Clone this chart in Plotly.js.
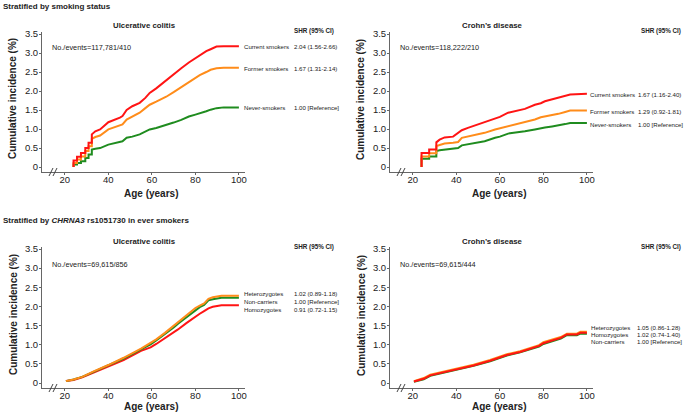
<!DOCTYPE html>
<html>
<head>
<meta charset="utf-8">
<script src="https://cdn.plot.ly/plotly-3.0.1.min.js"></script>
<style>
html,body{margin:0;padding:0;background:#fff;}
#chart{width:685px;height:414px;}
</style>
</head>
<body>
<div id="chart"></div>
<script>
// ---------- DATA ----------
// Top-left: Ulcerative colitis by smoking status
const ageUCsmoke = [24, 24, 25.6, 25.6, 27.4, 27.4, 29.4, 29.4, 30.9, 30.9, 32.4, 32.4, 34, 36.2, 40, 42.5, 45.3, 46.5, 48.4, 51, 54.4, 57, 59, 62, 66.6, 70, 73.5, 77, 80, 82, 85, 87, 89.7, 93, 100];
const ucCurrent = [0, 0.17, 0.17, 0.27, 0.27, 0.37, 0.37, 0.5, 0.5, 0.64, 0.64, 0.86, 0.94, 0.99, 1.18, 1.23, 1.3, 1.34, 1.5, 1.6, 1.69, 1.82, 1.95, 2.07, 2.29, 2.45, 2.6, 2.75, 2.87, 2.95, 3.05, 3.1, 3.17, 3.18, 3.18];
const ucFormer  = [0, 0.11, 0.11, 0.2, 0.2, 0.28, 0.28, 0.42, 0.42, 0.55, 0.55, 0.74, 0.79, 0.83, 0.99, 1.04, 1.1, 1.12, 1.25, 1.33, 1.43, 1.55, 1.64, 1.72, 1.85, 1.97, 2.1, 2.25, 2.35, 2.42, 2.5, 2.56, 2.6, 2.61, 2.61];
const ucNever   = [0, 0.07, 0.07, 0.11, 0.11, 0.15, 0.15, 0.24, 0.24, 0.33, 0.33, 0.46, 0.48, 0.5, 0.59, 0.62, 0.66, 0.68, 0.77, 0.8, 0.86, 0.93, 0.99, 1.03, 1.1, 1.17, 1.24, 1.33, 1.38, 1.41, 1.47, 1.51, 1.55, 1.57, 1.57];

// Top-right: Crohn's disease by smoking status
const ageCDsmoke = [24, 24, 27.5, 27.5, 30.8, 30.8, 32.3, 34.6, 38.5, 40.8, 42.5, 45.3, 50, 53, 57.8, 60, 63.8, 67, 71.5, 76.1, 78.8, 80.7, 84, 86.9, 90, 92.3, 100];
const cdCurrent = [0, 0.37, 0.37, 0.46, 0.46, 0.65, 0.72, 0.78, 0.8, 0.9, 0.97, 1.03, 1.12, 1.18, 1.27, 1.32, 1.43, 1.47, 1.53, 1.64, 1.68, 1.73, 1.78, 1.82, 1.88, 1.91, 1.93];
const cdFormer  = [0, 0.28, 0.28, 0.36, 0.36, 0.55, 0.58, 0.62, 0.64, 0.66, 0.77, 0.8, 0.86, 0.9, 0.99, 1.02, 1.09, 1.12, 1.18, 1.25, 1.31, 1.33, 1.37, 1.4, 1.45, 1.49, 1.49];
const cdNever   = [0, 0.22, 0.22, 0.28, 0.28, 0.42, 0.44, 0.46, 0.48, 0.5, 0.57, 0.6, 0.64, 0.68, 0.77, 0.8, 0.88, 0.9, 0.94, 0.99, 1.03, 1.04, 1.07, 1.09, 1.13, 1.16, 1.16];

// Bottom-left: Ulcerative colitis by CHRNA3 rs1051730 (ever smokers)
const ageUCgene = [20.5, 24, 28, 33, 40, 47, 55, 59.4, 62, 66, 70, 72, 76, 80, 82, 84, 86, 88, 92, 100];
const ucHet = [0.05, 0.09, 0.16, 0.3, 0.47, 0.66, 0.9, 1.04, 1.14, 1.31, 1.49, 1.6, 1.78, 1.96, 2.02, 2.08, 2.2, 2.24, 2.28, 2.28];
const ucNon = [0.05, 0.09, 0.16, 0.29, 0.46, 0.64, 0.88, 1.01, 1.11, 1.27, 1.45, 1.55, 1.73, 1.91, 1.98, 2.04, 2.16, 2.19, 2.23, 2.23];
const ucHom = [0.05, 0.08, 0.15, 0.27, 0.43, 0.6, 0.84, 0.93, 1.02, 1.17, 1.32, 1.4, 1.57, 1.74, 1.81, 1.88, 1.95, 1.99, 2.03, 2.03];

// Bottom-right: Crohn's disease by CHRNA3 rs1051730 (ever smokers)
const ageCDgene = [20.5, 25, 28, 32.6, 38.7, 47.9, 55.5, 63.2, 69.3, 74, 78, 80, 85.4, 88, 90.8, 95.4, 97, 100];
const cdHet = [0.05, 0.13, 0.22, 0.28, 0.37, 0.48, 0.6, 0.75, 0.83, 0.92, 0.99, 1.07, 1.15, 1.2, 1.29, 1.29, 1.34, 1.34];
const cdHom = [0.04, 0.11, 0.2, 0.26, 0.35, 0.46, 0.58, 0.73, 0.81, 0.9, 0.97, 1.04, 1.13, 1.18, 1.27, 1.27, 1.31, 1.31];
const cdNon = [0.03, 0.1, 0.19, 0.25, 0.34, 0.45, 0.57, 0.72, 0.8, 0.88, 0.95, 1.02, 1.11, 1.16, 1.25, 1.25, 1.29, 1.29];

// Labels
const smokeLabels = ["Current smokers", "Former smokers", "Never-smokers"];
const ucSmokeSHR = ["2.04 (1.56-2.66)", "1.67 (1.31-2.14)", "1.00 [Reference]"];
const cdSmokeSHR = ["1.67 (1.16-2.40)", "1.29 (0.92-1.81)", "1.00 [Reference]"];
const ucGeneLabels = ["Heterozygotes", "Non-carriers", "Homozygotes"];
const ucGeneSHR = ["1.02 (0.89-1.18)", "1.00 [Reference]", "0.91 (0.72-1.15)"];
const cdGeneLabels = ["Heterozygotes", "Homozygotes", "Non-carriers"];
const cdGeneSHR = ["1.05 (0.86-1.28)", "1.02 (0.74-1.40)", "1.00 [Reference]"];
const nEvents = ["No./events=117,781/410", "No./events=118,222/210", "No./events=69,615/856", "No./events=69,615/444"];
const panelTitles = ["Ulcerative colitis", "Crohn\u2019s disease", "Ulcerative colitis", "Crohn\u2019s disease"];
const yTickVals = [0, 0.5, 1, 1.5, 2, 2.5, 3, 3.5];
const yTickText = ["0", "0.5", "1.0", "1.5", "2.0", "2.5", "3.0", "3.5"];
const xTickVals = [20, 40, 60, 80, 100];

// ---------- STYLE ----------
const RED = "#ff1414", ORANGE = "#ff8c1a", GREEN = "#1f8c1f";
const W = 685, H = 414;
const FONT = "Liberation Sans, Arial, sans-serif";
const px = v => v / W;
const py = v => 1 - v / H;

function line(x, y, color, xa, ya) {
  return {x: x, y: y, type: "scatter", mode: "lines", xaxis: xa, yaxis: ya,
          line: {color: color, width: 2, shape: "linear"}, hoverinfo: "skip", showlegend: false};
}

const traces = [
  line(ageUCsmoke, ucNever, GREEN, "x", "y"),
  line(ageUCsmoke, ucFormer, ORANGE, "x", "y"),
  line(ageUCsmoke, ucCurrent, RED, "x", "y"),
  line(ageCDsmoke, cdNever, GREEN, "x2", "y2"),
  line(ageCDsmoke, cdFormer, ORANGE, "x2", "y2"),
  line(ageCDsmoke, cdCurrent, RED, "x2", "y2"),
  line(ageUCgene, ucHom, RED, "x3", "y3"),
  line(ageUCgene, ucNon, GREEN, "x3", "y3"),
  line(ageUCgene, ucHet, ORANGE, "x3", "y3"),
  line(ageCDgene, cdNon, GREEN, "x4", "y4"),
  line(ageCDgene, cdHet, ORANGE, "x4", "y4"),
  line(ageCDgene, cdHom, RED, "x4", "y4")
];

function xax(domain, anchor) {
  return {domain: domain, anchor: anchor, range: [9.5, 102.8], tickvals: xTickVals,
          ticks: "outside", ticklen: 2, tickcolor: "#666", showline: true, linecolor: "#666", linewidth: 1,
          ticklabelstandoff: -3,
          showgrid: false, zeroline: false, tickfont: {family: FONT, size: 9.5, color: "#222"}, fixedrange: true};
}
function yax(domain, anchor) {
  return {domain: domain, anchor: anchor, range: [-0.13, 3.553], tickvals: yTickVals, ticktext: yTickText,
          ticks: "outside", ticklen: 2, tickcolor: "#666", showline: true, linecolor: "#666", linewidth: 1,
          ticklabelstandoff: -1,
          showgrid: false, zeroline: false, tickfont: {family: FONT, size: 9.5, color: "#222"}, fixedrange: true};
}

const xL = [px(42), px(245)], xR = [px(390), px(593)];
const yT = [py(172), py(32)], yB = [py(388), py(247)];

const ann = [];
function txt(x, y, text, size, opts) {
  ann.push(Object.assign({xref: "paper", yref: "paper", x: px(x), y: py(y), text: text, showarrow: false,
    xanchor: "left", yanchor: "middle", font: {family: FONT, size: size, color: "#222"}}, opts || {}));
}

// Section headers
txt(1, 7, "<b>Stratified by smoking status</b>", 8);
txt(1, 220, "<b>Stratified by <i>CHRNA3</i> rs1051730 in ever smokers</b>", 8);

// panel info (offsets and axis-title rows per panel)
const panels = [
  {ox: 0, oy: 0, ty: 193}, {ox: 348, oy: 0, ty: 193}, {ox: 0, oy: 216, ty: 406.5}, {ox: 348, oy: 216, ty: 406.5}
];
panels.forEach((p, i) => {
  txt(p.ox + 144, p.oy + 25, "<b>" + panelTitles[i] + "</b>", 7.8, {xanchor: "center"});
  txt(p.ox + 50, p.oy + 48, nEvents[i], 7.3);
  txt(p.ox + (i % 2 ? 291 : 292), p.oy + 31, "<b>SHR (95% CI)</b>", 6.3);
  txt(p.ox + 151, p.ty, "<b>Age (years)</b>", 10, {xanchor: "center"});
  txt(p.ox + 13, p.oy + 99, "<b>Cumulative incidence (%)</b>", 10, {xanchor: "center", textangle: -90});
});

// series labels
const labelSets = [
  {x: 242, vx: 292, ys: [46.7, 68.3, 107.7], labels: smokeLabels, vals: ucSmokeSHR},
  {x: 588, vx: 636, ys: [94.7, 111.3, 124.3], labels: smokeLabels, vals: cdSmokeSHR},
  {x: 242, vx: 292, ys: [293.3, 301, 309], labels: ucGeneLabels, vals: ucGeneSHR},
  {x: 589, vx: 635, ys: [327.3, 334.3, 341], labels: cdGeneLabels, vals: cdGeneSHR}
];
labelSets.forEach(s => {
  s.labels.forEach((l, k) => {
    txt(s.x, s.ys[k], l, 6.1);
    txt(s.vx, s.ys[k], s.vals[k], 6.1);
  });
});

// axis break marks
const shapes = [];
[[0, 172], [348, 172], [0, 388], [348, 388]].forEach(([ox, ay]) => {
  [49, 53].forEach(sx => {
    shapes.push({type: "line", xref: "paper", yref: "paper",
      x0: px(ox + sx), y0: py(ay + 4), x1: px(ox + sx + 4), y1: py(ay - 4),
      line: {color: "#444", width: 1}});
  });
});

const layout = {
  width: W, height: H,
  margin: {l: 0, r: 0, t: 0, b: 0},
  paper_bgcolor: "#fff", plot_bgcolor: "#fff",
  showlegend: false,
  xaxis: xax(xL, "y"), yaxis: yax(yT, "x"),
  xaxis2: xax(xR, "y2"), yaxis2: yax(yT, "x2"),
  xaxis3: xax(xL, "y3"), yaxis3: yax(yB, "x3"),
  xaxis4: xax(xR, "y4"), yaxis4: yax(yB, "x4"),
  annotations: ann,
  shapes: shapes
};

Plotly.newPlot("chart", traces, layout, {displayModeBar: false, staticPlot: true});
</script>
</body>
</html>
